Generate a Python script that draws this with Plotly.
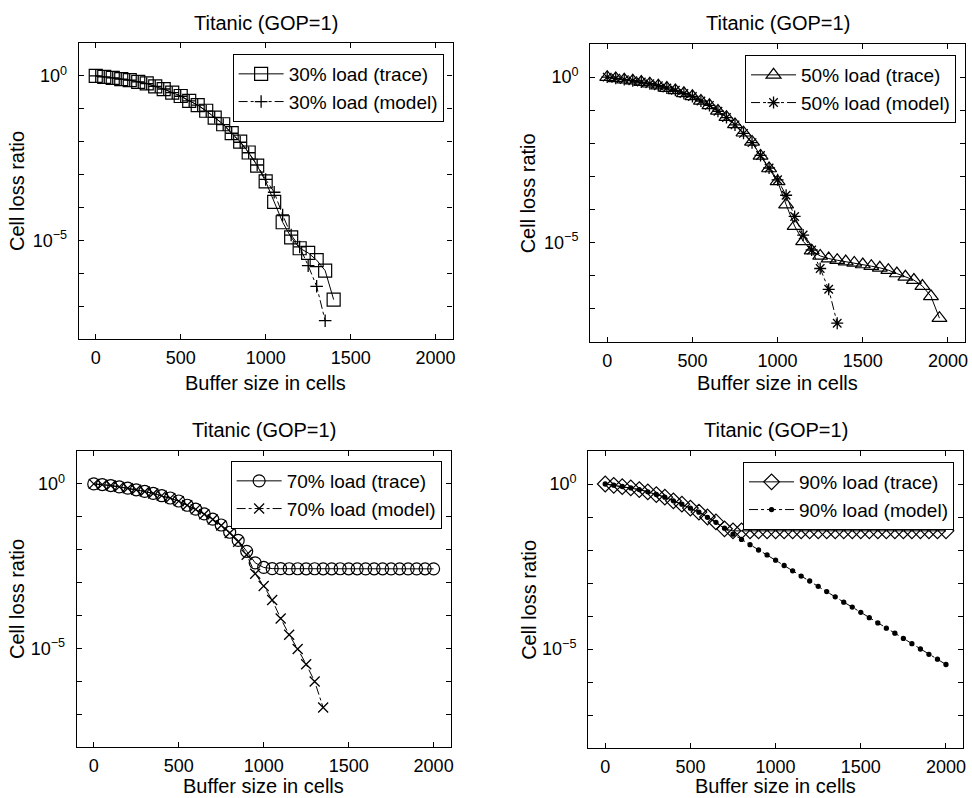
import plotly.graph_objects as go

# ---------------- data ----------------
buffer_30_trace = list(range(0, 1401, 50))
clr_30_trace = [1.0, 0.933, 0.871, 0.794, 0.741, 0.661, 0.589, 0.479, 0.398, 0.309,
                0.245, 0.174, 0.129, 8.71e-2, 5.37e-2, 3.39e-2, 1.82e-2, 1.0e-2, 4.68e-3, 1.86e-3,
                6.17e-4, 1.48e-4, 3.55e-5, 1.23e-5, 5.75e-6, 4.17e-6, 2.51e-6, 1.20e-6, 1.58e-7]
buffer_30_model = list(range(0, 1351, 50))
clr_30_model = [1.0, 0.93, 0.87, 0.80, 0.74, 0.66, 0.58, 0.48, 0.40, 0.31,
                0.24, 0.175, 0.13, 8.5e-2, 5.5e-2, 3.3e-2, 1.8e-2, 9.6e-3, 4.6e-3, 1.95e-3,
                7.1e-4, 2.9e-4, 5.9e-5, 1.45e-5, 6.3e-6, 1.7e-6, 4.0e-7, 3.6e-8]

buffer_50_trace = list(range(0, 1951, 50))
clr_50_trace = [1.0, 0.912, 0.832, 0.776, 0.708, 0.631, 0.550, 0.468, 0.398, 0.324,
                0.263, 0.191, 0.141, 9.55e-2, 6.17e-2, 3.72e-2, 2.09e-2, 1.10e-2, 4.17e-3, 1.74e-3,
                7.08e-4, 1.41e-4, 3.16e-5, 1.10e-5, 5.75e-6, 3.98e-6, 3.31e-6, 2.95e-6, 2.69e-6, 2.45e-6,
                2.19e-6, 1.95e-6, 1.74e-6, 1.48e-6, 1.17e-6, 9.33e-7, 7.41e-7, 4.90e-7, 2.40e-7, 5.25e-8]
buffer_50_model = list(range(0, 1351, 50))
clr_50_model = [1.0, 0.92, 0.84, 0.78, 0.71, 0.63, 0.55, 0.47, 0.40, 0.32,
                0.26, 0.19, 0.14, 9.3e-2, 6.0e-2, 3.6e-2, 2.0e-2, 1.05e-2, 4.3e-3, 1.8e-3,
                7.9e-4, 2.7e-4, 6.2e-5, 1.7e-5, 6.0e-6, 1.66e-6, 3.9e-7, 3.7e-8]

buffer_70_trace = list(range(0, 2001, 50))
clr_70_trace = [1.0, 0.955, 0.891, 0.813, 0.741, 0.661, 0.589, 0.513, 0.437, 0.372,
                0.302, 0.224, 0.170, 0.123, 8.51e-2, 5.62e-2, 3.39e-2, 1.91e-2, 8.91e-3, 3.98e-3,
                2.88e-3, 2.66e-3, 2.64e-3, 2.63e-3, 2.63e-3, 2.62e-3, 2.63e-3, 2.62e-3, 2.62e-3, 2.63e-3,
                2.62e-3, 2.62e-3, 2.61e-3, 2.62e-3, 2.62e-3, 2.61e-3, 2.62e-3, 2.61e-3, 2.61e-3, 2.62e-3,
                2.61e-3]
buffer_70_model = list(range(0, 1351, 50))
clr_70_model = [1.0, 0.95, 0.89, 0.81, 0.74, 0.66, 0.59, 0.51, 0.44, 0.37,
                0.30, 0.225, 0.168, 0.12, 8.3e-2, 5.4e-2, 3.2e-2, 1.75e-2, 7.0e-3, 1.86e-3,
                7.9e-4, 2.95e-4, 8.1e-5, 2.6e-5, 9.5e-6, 3.3e-6, 9.8e-7, 1.58e-7]

buffer_90_trace = list(range(0, 2001, 50))
clr_90_trace = [1.0, 0.912, 0.832, 0.759, 0.676, 0.575, 0.479, 0.398, 0.309, 0.245,
                0.186, 0.141, 0.100, 7.08e-2, 4.37e-2, 3.80e-2, 3.80e-2, 3.80e-2, 3.79e-2, 3.80e-2,
                3.80e-2, 3.79e-2, 3.80e-2, 3.80e-2, 3.79e-2, 3.80e-2, 3.80e-2, 3.79e-2, 3.80e-2, 3.80e-2,
                3.79e-2, 3.80e-2, 3.80e-2, 3.79e-2, 3.80e-2, 3.80e-2, 3.79e-2, 3.80e-2, 3.80e-2, 3.79e-2,
                3.80e-2]
buffer_90_model = list(range(0, 2001, 50))
clr_90_model = [1.0, 0.92, 0.84, 0.76, 0.68, 0.58, 0.48, 0.40, 0.31, 0.245,
                0.185, 0.14, 9.8e-2, 6.9e-2, 4.6e-2, 3.02e-2, 2.09e-2, 1.45e-2, 1.0e-2, 7.08e-3,
                4.90e-3, 3.39e-3, 2.34e-3, 1.62e-3, 1.15e-3, 7.94e-4, 5.50e-4, 3.80e-4, 2.63e-4, 1.86e-4,
                1.29e-4, 8.91e-5, 6.17e-5, 4.27e-5, 3.02e-5, 2.09e-5, 1.45e-5, 1.0e-5, 6.92e-6, 4.90e-6,
                3.39e-6]

panel_title = "Titanic (GOP=1)"
x_label = "Buffer size in cells"
y_label = "Cell loss ratio"
x_ticks = [0, 500, 1000, 1500, 2000]
y_tick_vals = [1e1, 1e0, 1e-1, 1e-2, 1e-3, 1e-4, 1e-5, 1e-6, 1e-7, 1e-8]
y_tick_text = ["", "10<sup>0</sup>", "", "", "", "", "10<sup>\u22125</sup>", "", "", ""]

# ---------------- styling ----------------
FONT = "Liberation Sans, Arial, Helvetica, sans-serif"
W, H = 972, 798

# panel boxes in pixels: (left, right, top, bottom)
boxes = [(79, 454, 43, 339), (592, 968, 44, 342), (77, 452, 451, 747), (590, 966, 451, 748)]
legend_pos = [(445, 54), (959, 55), (443, 461), (957, 462)]
title_y = [23, 23, 430, 430]
xlab_y = [383, 383, 786, 786]
ylab_x = [17, 530, 17, 530]

series = [
    (buffer_30_trace, clr_30_trace, "30% load (trace)", "square-open", 13,
     buffer_30_model, clr_30_model, "30% load (model)", "cross-thin-open", 9),
    (buffer_50_trace, clr_50_trace, "50% load (trace)", "triangle-up-open", 13,
     buffer_50_model, clr_50_model, "50% load (model)", "asterisk-open", 10),
    (buffer_70_trace, clr_70_trace, "70% load (trace)", "circle-open", 12,
     buffer_70_model, clr_70_model, "70% load (model)", "x-thin-open", 10),
    (buffer_90_trace, clr_90_trace, "90% load (trace)", "diamond-open", 12,
     buffer_90_model, clr_90_model, "90% load (model)", "circle", 4),
]

fig = go.Figure()
annotations = []
layout = {}
for i, (bx, by, bn, bs, bsz, mx, my, mn, ms, msz) in enumerate(series):
    k = "" if i == 0 else str(i + 1)
    leg = "legend" if i == 0 else "legend" + str(i + 1)
    fig.add_trace(go.Scatter(
        x=bx, y=by, name=bn, mode="lines+markers", xaxis="x" + k, yaxis="y" + k, legend=leg,
        line=dict(color="black", width=1),
        marker=dict(symbol=bs, size=bsz, color="black", line=dict(color="black", width=1.2))))
    fig.add_trace(go.Scatter(
        x=mx, y=my, name=mn, mode="lines+markers", xaxis="x" + k, yaxis="y" + k, legend=leg,
        line=dict(color="black", width=1, dash="dashdot"),
        marker=dict(symbol=ms, size=msz, color="black", line=dict(color="black", width=1.3))))

    l, r, t, b = boxes[i]
    layout["xaxis" + k] = dict(
        domain=[l / W, r / W], anchor="y" + k, range=[-100, 2100],
        tickvals=x_ticks, ticks="inside", ticklen=5, tickwidth=1, tickcolor="black",
        showline=True, linecolor="black", linewidth=1.2, mirror="ticks",
        showgrid=False, zeroline=False, ticklabelstandoff=2,
        tickfont=dict(family=FONT, size=18, color="black"))
    layout["yaxis" + k] = dict(
        domain=[1 - b / H, 1 - t / H], anchor="x" + k, type="log", range=[-8, 1],
        tickvals=y_tick_vals, ticktext=y_tick_text, ticks="inside", ticklen=5, tickwidth=1,
        tickcolor="black", showline=True, linecolor="black", linewidth=1.2, mirror="ticks",
        showgrid=False, zeroline=False, ticklabelstandoff=7,
        tickfont=dict(family=FONT, size=18, color="black"))
    lx, ly = legend_pos[i]
    layout[leg] = dict(
        x=lx / W, y=1 - ly / H, xanchor="right", yanchor="top",
        bordercolor="black", borderwidth=1, bgcolor="white",
        font=dict(family=FONT, size=19, color="black"),
        tracegroupgap=0, itemwidth=45)

    cx = (l + r) / 2
    annotations.append(dict(text=panel_title, x=cx / W, y=1 - title_y[i] / H, xref="paper", yref="paper",
                            xanchor="center", yanchor="middle", showarrow=False,
                            font=dict(family=FONT, size=20, color="black")))
    annotations.append(dict(text=x_label, x=cx / W, y=1 - xlab_y[i] / H, xref="paper", yref="paper",
                            xanchor="center", yanchor="middle", showarrow=False,
                            font=dict(family=FONT, size=20, color="black")))
    annotations.append(dict(text=y_label, x=ylab_x[i] / W, y=1 - ((t + b) / 2) / H, xref="paper", yref="paper",
                            xanchor="center", yanchor="middle", showarrow=False, textangle=-90,
                            font=dict(family=FONT, size=20, color="black")))

fig.update_layout(
    width=W, height=H, margin=dict(l=0, r=0, t=0, b=0),
    paper_bgcolor="white", plot_bgcolor="white",
    showlegend=True, annotations=annotations, **layout)

fig.write_html("out.html")
